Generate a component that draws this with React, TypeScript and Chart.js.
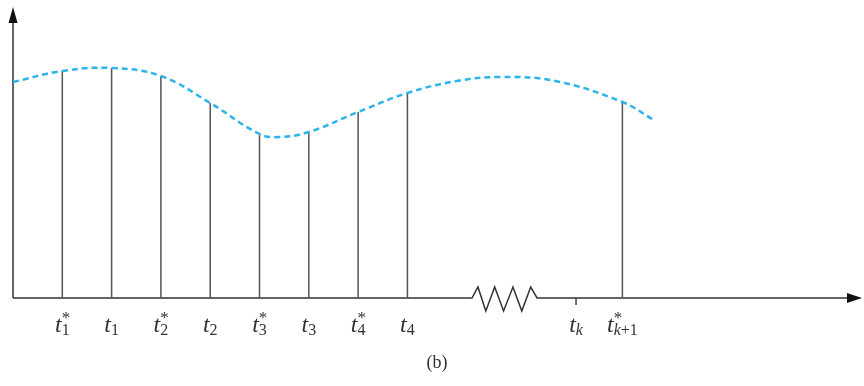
import React, { useEffect, useRef } from "react";
import { Chart, registerables } from "chart.js";

Chart.register(...registerables);

// Abscissa unit = half an interval; ordinate in arbitrary units
const curveX = [0, 1, 2, 3, 4, 5, 5.4, 6, 7, 8, 9, 9.9, 11, 12.36, 13];
const curveY = [21.6, 22.7, 23.0, 22.2, 19.5, 16.4, 16.1, 16.6, 18.6, 20.5, 21.7, 22.1, 21.7, 19.6, 17.8];

const stemX = [1, 2, 3, 4, 5, 6, 7, 8, 12.36];
const stemY = [22.7, 23.0, 22.2, 19.5, 16.4, 16.6, 18.6, 20.5, 19.6];

const tickMarkX = [11.42];
const tickMarkY = [-0.7];

const axisX = [0, 9.31, 9.43, 9.59, 9.77, 9.95, 10.14, 10.32, 10.5, 10.63, 17.0];
const axisY = [0, 0, 1.1, -1.3, 1.1, -1.3, 1.1, -1.3, 1.1, 0, 0];

const yAxisTop = 28.0;

const labelX = [1, 2, 3, 4, 5, 6, 7, 8, 11.42, 12.36];
const labelSub = ["1", "1", "2", "2", "3", "3", "4", "4", "k", "k+1"];
const labelStar = [true, false, true, false, true, false, true, false, false, true];

const caption = "(b)";

const FONT = "'Liberation Serif', 'DejaVu Serif', serif";
const INK = "#333";

const drawPlugin = {
  id: "diagram",
  afterDatasetsDraw(chart: any) {
    const ctx = chart.ctx;
    const xs = chart.scales.x;
    const ys = chart.scales.y;
    const x0 = xs.getPixelForValue(0);
    const y0 = ys.getPixelForValue(0);
    ctx.save();
    // arrowheads
    ctx.fillStyle = "#111";
    const tipX = xs.getPixelForValue(xs.max);
    ctx.beginPath();
    ctx.moveTo(tipX, y0);
    ctx.lineTo(tipX - 15, y0 - 5);
    ctx.lineTo(tipX - 15, y0 + 5);
    ctx.closePath();
    ctx.fill();
    const tipY = ys.getPixelForValue(ys.max);
    ctx.beginPath();
    ctx.moveTo(x0, tipY);
    ctx.lineTo(x0 - 4.5, tipY + 16);
    ctx.lineTo(x0 + 4.5, tipY + 16);
    ctx.closePath();
    ctx.fill();

    // labels
    ctx.fillStyle = INK;
    ctx.textBaseline = "alphabetic";
    ctx.textAlign = "left";
    const base = y0 + 34;
    labelX.forEach((v, i) => {
      const cx = xs.getPixelForValue(v);
      const sub = labelSub[i];
      ctx.font = `italic 24px ${FONT}`;
      const wt = ctx.measureText("t").width;
      let ws = 0;
      const parts: { t: string; it: boolean }[] = [];
      if (sub.startsWith("k")) {
        parts.push({ t: "k", it: true });
        if (sub.length > 1) parts.push({ t: sub.slice(1), it: false });
      } else parts.push({ t: sub, it: false });
      parts.forEach((p) => {
        ctx.font = `${p.it ? "italic " : ""}16px ${FONT}`;
        ws += ctx.measureText(p.t).width;
      });
      const start = cx - (wt + ws) / 2;
      ctx.font = `italic 24px ${FONT}`;
      ctx.fillText("t", start, base);
      let sx = start + wt;
      parts.forEach((p) => {
        ctx.font = `${p.it ? "italic " : ""}16px ${FONT}`;
        ctx.fillText(p.t, sx, base + 3);
        sx += ctx.measureText(p.t).width;
      });
      if (labelStar[i]) {
        ctx.font = `17px ${FONT}`;
        ctx.fillText("*", start + wt, base - 9);
      }
    });
    ctx.font = `18px ${FONT}`;
    ctx.textAlign = "center";
    ctx.fillText(caption, xs.getPixelForValue(8.6), y0 + 70);
    ctx.restore();
  },
};

export default function App() {
  const ref = useRef<HTMLCanvasElement | null>(null);
  useEffect(() => {
    if (!ref.current) return;
    const stems = stemX.map((x, i) => ({
      data: [
        { x, y: 0 },
        { x, y: stemY[i] },
      ],
      showLine: true,
      borderColor: "#555",
      borderWidth: 1.5,
      pointRadius: 0,
      clip: false,
      order: 2,
    }));
    const ticks = tickMarkX.map((x, i) => ({
      data: [
        { x, y: 0 },
        { x, y: tickMarkY[i] },
      ],
      showLine: true,
      borderColor: "#444",
      borderWidth: 1.5,
      pointRadius: 0,
      clip: false,
      order: 2,
    }));
    const chart = new Chart(ref.current, {
      type: "scatter",
      data: {
        datasets: [
          {
            data: curveX.map((x, i) => ({ x, y: curveY[i] })),
            showLine: true,
            borderColor: "#2db4ec",
            borderWidth: 2.5,
            borderDash: [6, 4],
            tension: 0.4,
            pointRadius: 0,
            clip: false,
            order: 1,
          } as any,
          ...stems,
          ...ticks,
          {
            data: axisX.map((x, i) => ({ x, y: axisY[i] })),
            showLine: true,
            borderColor: "#333",
            borderWidth: 1.5,
            pointRadius: 0,
            clip: false,
            order: 3,
          },
          {
            data: [
              { x: 0, y: 0 },
              { x: 0, y: yAxisTop },
            ],
            showLine: true,
            borderColor: "#333",
            borderWidth: 1.5,
            pointRadius: 0,
            clip: false,
            order: 3,
          },
        ],
      },
      options: {
        animation: false,
        responsive: false,
        devicePixelRatio: 1,
        layout: { padding: { left: 13, right: 2, top: 7, bottom: 58 } },
        plugins: { legend: { display: false }, tooltip: { enabled: false } },
        scales: {
          x: { type: "linear", min: 0, max: 17.22, display: false },
          y: { type: "linear", min: -3, max: 29.1, display: false },
        },
      },
      plugins: [drawPlugin],
    });
    return () => chart.destroy();
  }, []);
  return (
    <div style={{ position: "fixed", left: 0, top: 0, width: 864, height: 386, background: "#fff" }}>
      <canvas ref={ref} width={864} height={386} />
    </div>
  );
}
